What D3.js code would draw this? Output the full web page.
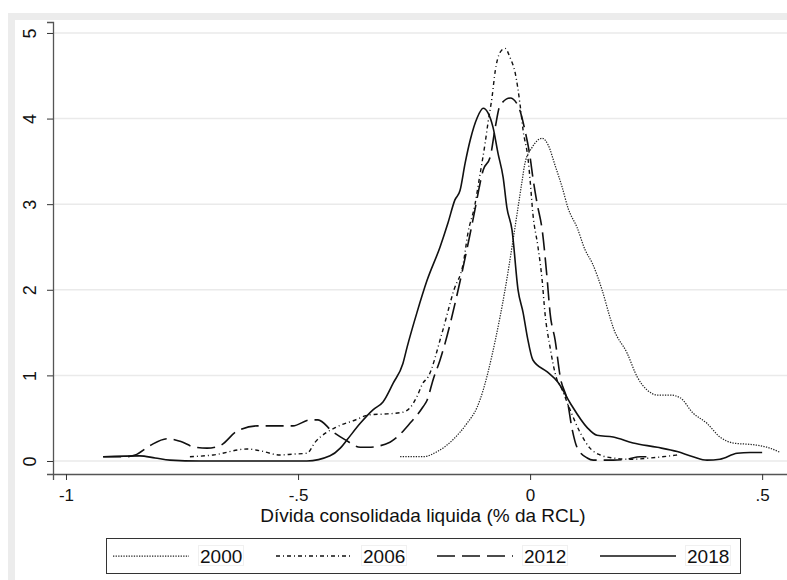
<!DOCTYPE html>
<html><head><meta charset="utf-8">
<script src="https://cdn.jsdelivr.net/npm/d3@7"></script>
<style>body{margin:0;background:#fff}svg{display:block}text{font-family:Arial,"Liberation Sans",sans-serif}</style>
</head><body><svg id="c" width="787" height="580"></svg>
<script>
const years = ["2000","2006","2012","2018"];
const xTicks = [-1,-0.5,0,0.5];
const xTickLabels = ["-1","-.5","0",".5"];
const yTicks = [0,1,2,3,4,5];
const xTitle = "Dívida consolidada liquida (% da RCL)";

const s2000 = [[-0.280,0.05],[-0.231,0.05],[-0.200,0.11],[-0.166,0.25],[-0.136,0.44],[-0.114,0.63],[-0.101,0.83],[-0.091,1.03],[-0.075,1.41],[-0.054,2.00],[-0.039,2.50],[-0.028,2.89],[-0.017,3.28],[-0.011,3.48],[0.004,3.66],[0.026,3.77],[0.039,3.69],[0.054,3.45],[0.069,3.20],[0.082,2.95],[0.101,2.73],[0.119,2.46],[0.134,2.31],[0.155,2.00],[0.172,1.68],[0.179,1.56],[0.209,1.26],[0.231,0.98],[0.252,0.83],[0.274,0.77],[0.302,0.77],[0.323,0.74],[0.351,0.56],[0.381,0.44],[0.409,0.28],[0.438,0.21],[0.481,0.19],[0.511,0.16],[0.539,0.10]];
const s2006 = [[-0.733,0.05],[-0.683,0.07],[-0.610,0.14],[-0.582,0.12],[-0.539,0.07],[-0.511,0.08],[-0.481,0.09],[-0.463,0.22],[-0.416,0.40],[-0.381,0.47],[-0.345,0.54],[-0.308,0.55],[-0.274,0.57],[-0.259,0.62],[-0.244,0.75],[-0.231,0.91],[-0.220,0.98],[-0.190,1.49],[-0.164,2.00],[-0.144,2.31],[-0.134,2.66],[-0.119,2.99],[-0.110,3.28],[-0.097,3.71],[-0.091,3.94],[-0.082,4.25],[-0.075,4.56],[-0.065,4.77],[-0.054,4.82],[-0.043,4.71],[-0.032,4.53],[-0.022,4.18],[-0.015,3.86],[-0.004,3.51],[0.000,3.28],[0.006,2.89],[0.017,2.50],[0.026,2.11],[0.032,1.73],[0.043,1.33],[0.058,0.95],[0.065,0.88],[0.086,0.60],[0.108,0.33],[0.129,0.15],[0.151,0.07],[0.179,0.035],[0.216,0.02],[0.259,0.035],[0.317,0.07]];
const s2012 = [[-0.920,0.05],[-0.871,0.05],[-0.851,0.07],[-0.819,0.18],[-0.782,0.26],[-0.754,0.23],[-0.722,0.16],[-0.696,0.15],[-0.668,0.18],[-0.631,0.35],[-0.588,0.41],[-0.539,0.41],[-0.511,0.41],[-0.474,0.48],[-0.457,0.48],[-0.425,0.34],[-0.399,0.25],[-0.366,0.16],[-0.349,0.16],[-0.302,0.22],[-0.291,0.26],[-0.259,0.44],[-0.231,0.63],[-0.222,0.71],[-0.209,0.95],[-0.194,1.18],[-0.183,1.38],[-0.155,2.00],[-0.129,2.66],[-0.119,2.93],[-0.112,3.13],[-0.101,3.40],[-0.086,3.55],[-0.075,3.90],[-0.065,4.15],[-0.043,4.24],[-0.026,4.15],[-0.011,3.86],[0.000,3.55],[0.006,3.31],[0.015,3.01],[0.026,2.70],[0.037,2.11],[0.043,1.73],[0.054,1.41],[0.065,0.98],[0.080,0.71],[0.091,0.36],[0.101,0.16],[0.123,0.035],[0.136,0.01],[0.179,0.01],[0.209,0.02],[0.237,0.05],[0.265,0.05]];
const s2018 = [[-0.920,0.05],[-0.841,0.06],[-0.808,0.035],[-0.776,0.01],[-0.711,0.0],[-0.600,0.0],[-0.481,0.0],[-0.431,0.06],[-0.409,0.15],[-0.394,0.25],[-0.366,0.44],[-0.338,0.60],[-0.317,0.69],[-0.295,0.91],[-0.274,1.14],[-0.265,1.33],[-0.244,1.73],[-0.222,2.11],[-0.194,2.50],[-0.177,2.78],[-0.162,3.05],[-0.151,3.16],[-0.140,3.48],[-0.129,3.75],[-0.114,4.01],[-0.101,4.12],[-0.091,4.07],[-0.080,3.90],[-0.069,3.59],[-0.058,3.31],[-0.050,2.96],[-0.039,2.70],[-0.026,2.00],[-0.015,1.73],[-0.006,1.45],[0.006,1.18],[0.037,1.04],[0.060,0.92],[0.086,0.68],[0.123,0.39],[0.144,0.30],[0.179,0.28],[0.222,0.21],[0.274,0.16],[0.317,0.11],[0.351,0.05],[0.381,0.01],[0.409,0.02],[0.446,0.09],[0.474,0.10],[0.500,0.10]];

const seriesData = [s2000, s2006, s2012, s2018];
const dashes = ["1.3,1.3","4,3,1,3","18,7",null];
const widths = [1.25,1.4,1.6,1.6];
const colors = ["#222","#111","#111","#111"];

const svg = d3.select("#c");
svg.append("rect").attr("x",8).attr("y",13).attr("width",779).attr("height",567).attr("fill","#ececec");
svg.append("rect").attr("x",15).attr("y",20).attr("width",772).attr("height",560).attr("fill","#fff");

const x = d3.scaleLinear().domain([-1.028,0.56]).range([53,790]);
const y = d3.scaleLinear().domain([-0.152,5.128]).range([474,22]);

svg.append("g").selectAll("line").data(yTicks).join("line")
  .attr("x1",54).attr("x2",787).attr("y1",d=>y(d)).attr("y2",d=>y(d))
  .attr("stroke","#eaeaea").attr("stroke-width",1.5);

const fs = 17;
const ya = svg.append("g").attr("transform","translate(53,0)")
  .call(d3.axisLeft(y).tickValues(yTicks).tickSize(6).tickFormat(d3.format("d")));
ya.select(".domain").attr("stroke","#555").attr("stroke-width",1.3);
ya.selectAll(".tick line").attr("stroke","#333");
ya.selectAll(".tick text").attr("font-size",18).attr("fill","#111")
  .attr("x",0).attr("dy",0).attr("text-anchor","middle")
  .attr("transform","translate(-17,0) rotate(-90)");

const xa = svg.append("g").attr("transform","translate(0,474)")
  .call(d3.axisBottom(x).tickValues(xTicks).tickSize(6).tickFormat((d,i)=>xTickLabels[i]));
xa.select(".domain").attr("stroke","#555").attr("stroke-width",1.3);
xa.selectAll(".tick line").attr("stroke","#333");
xa.selectAll(".tick text").attr("font-size",fs).attr("fill","#111").attr("y",26.5).attr("dy",0);

svg.append("text").attr("x",423).attr("y",522).attr("text-anchor","middle")
  .attr("font-size",19).attr("fill","#111").text(xTitle);

const line = d3.line().x(d=>x(d[0])).y(d=>y(d[1])).curve(d3.curveMonotoneX);
seriesData.forEach((s,i)=>{
  svg.append("path").datum(s).attr("d",line).attr("fill","none")
    .attr("stroke",colors[i]).attr("stroke-width",widths[i])
    .attr("stroke-dasharray",dashes[i]);
});

const lg = svg.append("g");
lg.append("rect").attr("x",106.5).attr("y",538.5).attr("width",634).attr("height",35)
  .attr("fill","#fff").attr("stroke","#333").attr("stroke-width",1);
const lx = [113,276,437,600];
years.forEach((yr,i)=>{
  lg.append("line").attr("x1",lx[i]).attr("x2",lx[i]+76).attr("y1",556).attr("y2",556)
    .attr("stroke",colors[i]).attr("stroke-width",widths[i]).attr("stroke-dasharray",dashes[i]);
  lg.append("rect").attr("x",lx[i]+85.5).attr("y",545.5).attr("width",45).attr("height",20)
    .attr("fill","none").attr("stroke","#f0f0f0");
  lg.append("text").attr("x",lx[i]+87).attr("y",563).attr("font-size",19).attr("fill","#111").text(yr);
});
</script></body></html>
